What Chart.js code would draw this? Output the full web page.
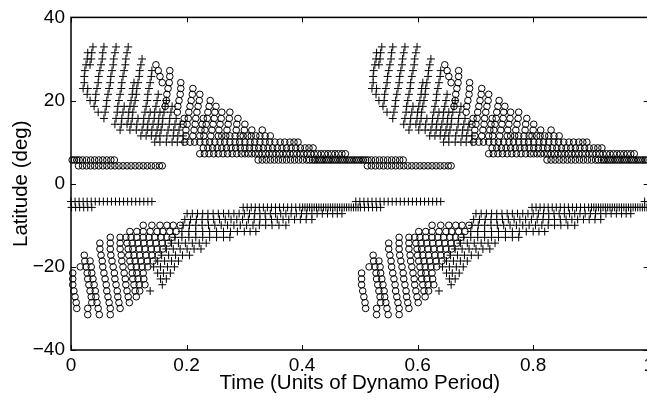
<!DOCTYPE html>
<html>
<head>
<meta charset="utf-8">
<script src="https://cdn.jsdelivr.net/npm/chart.js@4.4.0/dist/chart.umd.min.js"></script>
<style>
  html, body { margin: 0; padding: 0; background: #fff; overflow: hidden; }
  #wrap { position: relative; width: 660px; height: 401px; }
</style>
</head>
<body>
<div id="wrap"><canvas id="butterfly"></canvas></div>
<script>
// one dynamo cycle, times in units of the dynamo period, repeated every half period
const cycleStarts = [-0.5, 0, 0.5];
const xTicks = [0, 0.2, 0.4, 0.6, 0.8, 1];
const yTicks = [-40, -20, 0, 20, 40];

// [latitude, [times]]
const northPlusRows = [
  [32.9, [.038, .057, .078, .099]],
  [31.5, [.029, .036, .055, .076, .097]],
  [30.0, [.028, .035, .054, .074, .095, .123]],
  [28.6, [.026, .033, .052, .073, .094, .121]],
  [27.2, [.024, .050, .071, .092, .119, .140]],
  [25.8, [.023, .048, .069, .090, .118, .139]],
  [24.3, [.023, .047, .068, .088, .109, .116, .137]],
  [22.9, [.021, .029, .045, .066, .087, .107, .114, .135]],
  [21.5, [.028, .043, .064, .085, .106, .113, .133, .151]],
  [20.0, [.033, .042, .062, .083, .104, .111, .132, .149, .165]],
  [18.6, [.040, .061, .081, .092, .102, .109, .130, .147, .163, .175]],
  [17.2, [.047, .059, .080, .090, .100, .107, .128, .137, .145, .154, .161, .173]],
  [15.7, [.057, .078, .088, .099, .106, .116, .126, .135, .144, .152, .159, .171, .182]],
  [14.3, [.076, .087, .097, .104, .114, .125, .133, .142, .151, .158, .170, .180, .189]],
  [12.9, [.085, .102, .113, .123, .132, .140, .149, .156, .168, .178, .187]],
  [11.5, [.121, .130, .139, .147, .154, .166, .177, .185, .194]],
  [10.0, [.145, .154, .165, .175, .184, .194]]
];

const northCircleRows = [
  [28.6, [.147]],
  [27.2, [.151, .171]],
  [25.8, [.154, .171]],
  [24.3, [.158, .170, .190]],
  [22.9, [.168, .190, .211]],
  [21.5, [.166, .189, .210, .223]],
  [20.0, [.165, .187, .208, .222, .241]],
  [18.6, [.163, .185, .206, .220, .239, .251]],
  [17.2, [.184, .204, .218, .237, .249, .261, .275]],
  [15.7, [.196, .203, .216, .229, .236, .248, .260, .274, .289]],
  [14.3, [.194, .201, .215, .227, .234, .246, .258, .272, .287, .301]],
  [12.9, [.199, .213, .225, .232, .244, .256, .270, .286, .300, .313, .331]],
  [11.5, [.199, .211, .223, .230, .242, .255, .261, .268, .275, .284, .293, .298, .306, .312, .320, .327, .336, .345]],
  [10.0, [.197, .206, .214, .223, .232, .240, .249, .258, .266, .275, .284, .292, .301, .310, .318, .327, .336, .344, .353, .362, .370, .379, .386, .393]],
  [8.6, [.229, .237, .245, .253, .261, .269, .277, .285, .293, .301, .309, .317, .325, .333, .341, .349, .357, .365, .373, .381, .389, .397, .405, .412, .419]],
  [7.2, [.223, .231, .239, .247, .255, .263, .271, .279, .287, .295, .301, .307, .313, .319, .325, .331, .337, .343, .349, .355, .361, .367, .373, .379, .385, .391, .397, .403, .409, .415, .421, .427, .433, .439, .445, .451, .457, .463, .469, .475]],
  [5.7, [.324, .331, .338, .345, .352, .359, .366, .373, .380, .387, .394, .401, .408, .413, .418, .422, .426, .430, .434, .438, .442, .446, .450, .454, .458, .462, .466, .470, .474, .478, .482, .486, .490, .494, .498, .502, .506, .510, .514, .520, .527, .534, .541, .548, .555, .562, .569, .575]],
  [4.3, [.513, .520, .527, .534, .541, .548, .555, .562, .569, .576, .583, .590, .597, .604, .611, .618, .625, .632, .639, .646, .653, .658]]
];

const southCircleRows = [
  [-10.0, [.125, .140, .154, .166, .177, .189]],
  [-11.5, [.102, .114, .125, .137, .149, .159, .171, .182]],
  [-12.9, [.068, .085, .095, .104, .114, .125, .135, .145, .156, .166, .175]],
  [-14.3, [.050, .068, .085, .097, .106, .116, .126, .137, .147, .158, .168]],
  [-15.7, [.050, .068, .085, .099, .107, .118, .128, .139, .149, .159]],
  [-17.2, [.023, .052, .069, .087, .100, .109, .119, .130, .140, .151]],
  [-18.6, [.024, .033, .054, .071, .088, .102, .111, .121, .132, .142]],
  [-20.0, [.016, .026, .035, .055, .073, .090, .104, .113, .123, .133]],
  [-21.5, [.003, .028, .036, .057, .075, .092, .106, .114, .125]],
  [-22.9, [.003, .029, .038, .059, .076, .094, .107, .116, .126]],
  [-24.3, [.003, .031, .040, .061, .078, .095, .109, .118, .128]],
  [-25.8, [.005, .033, .042, .062, .080, .097, .111, .119]],
  [-27.2, [.007, .035, .043, .064, .081, .099, .113]],
  [-28.6, [.009, .036, .045, .066, .083, .101]],
  [-30.0, [.010, .029, .047, .068, .085]],
  [-31.5, [.029, .049, .068]]
];

const southPlusRows = [
  [-4.3, [.493, .500, .507, .514, .521, .528, .535, .542, .549, .556, .563, .570, .577, .584, .591, .598, .605, .612, .619, .626, .633, .640]],
  [-5.7, [.298, .305, .312, .319, .326, .333, .340, .347, .354, .361, .368, .375, .382, .389, .396, .401, .405, .409, .413, .417, .421, .425, .429, .433, .437, .441, .445, .449, .453, .457, .461, .465, .469, .473, .477, .481, .485, .489, .493, .497, .501, .508, .515, .522, .529, .536]],
  [-7.2, [.201, .210, .219, .228, .237, .246, .255, .264, .273, .282, .291, .300, .309, .318, .327, .336, .345, .354, .363, .372, .381, .390, .399, .408, .417, .426, .435, .444, .453, .461, .469]],
  [-8.6, [.197, .207, .217, .227, .237, .247, .257, .267, .277, .287, .297, .307, .317, .327, .337, .347, .357, .367, .377, .387, .397, .407, .417]],
  [-10.0, [.194, .205, .216, .227, .238, .249, .260, .271, .282, .293, .304, .315, .326, .337, .348, .360, .372]],
  [-11.5, [.192, .204, .216, .228, .240, .252, .264, .276, .288, .300, .310, .320]],
  [-12.9, [.180, .192, .204, .216, .228, .240, .252, .264, .275]],
  [-14.3, [.174, .186, .198, .210, .222, .234]],
  [-15.7, [.165, .177, .189, .201, .213, .225]],
  [-17.2, [.157, .169, .181, .193, .205]],
  [-18.6, [.150, .162, .174, .186]],
  [-20.0, [.143, .155, .167, .179]],
  [-21.5, [.150, .160, .172]],
  [-22.9, [.155, .165]],
  [-24.3, [.158]],
  [-25.8, [.137]]
];

function wing(rows) {
  const pts = [];
  cycleStarts.forEach(function (c) {
    rows.forEach(function (row) {
      row[1].forEach(function (t) {
        const x = c + t;
        if (x >= 0 && x <= 1) pts.push({ x: x, y: row[0] });
      });
    });
  });
  return pts;
}

function circles(rows) {
  return {
    data: wing(rows), pointStyle: 'circle', pointRadius: 3.3,
    borderColor: '#000', backgroundColor: 'rgba(0,0,0,0)', borderWidth: 1, clip: false
  };
}
function pluses(rows) {
  return {
    data: wing(rows), pointStyle: 'cross', pointRadius: 4,
    borderColor: '#000', backgroundColor: '#000', borderWidth: 1, clip: false
  };
}

// boxed axes with inward ticks
const frame = {
  id: 'frame',
  afterDraw(chart) {
    const ctx = chart.ctx, a = chart.chartArea;
    const x = chart.scales.x, y = chart.scales.y;
    ctx.save();
    ctx.strokeStyle = '#000';
    ctx.lineWidth = 1.5;
    ctx.strokeRect(a.left, a.top, a.right - a.left, a.bottom - a.top);
    ctx.lineWidth = 1;
    ctx.beginPath();
    xTicks.forEach(function (v) {
      const p = Math.round(x.getPixelForValue(v)) + 0.5;
      ctx.moveTo(p, a.bottom); ctx.lineTo(p, a.bottom - 5);
      ctx.moveTo(p, a.top); ctx.lineTo(p, a.top + 5);
    });
    yTicks.forEach(function (v) {
      const p = Math.round(y.getPixelForValue(v)) + 0.5;
      ctx.moveTo(a.left, p); ctx.lineTo(a.left + 5, p);
      ctx.moveTo(a.right, p); ctx.lineTo(a.right - 5, p);
    });
    ctx.stroke();
    ctx.restore();
  }
};

const tickFont = { family: '"Liberation Sans", Arial, sans-serif', size: 19 };
const titleFont = { family: '"Liberation Sans", Arial, sans-serif', size: 20.5 };

new Chart(document.getElementById('butterfly'), {
  type: 'scatter',
  data: {
    datasets: [
      pluses(northPlusRows),
      circles(northCircleRows),
      circles(southCircleRows),
      pluses(southPlusRows)
    ]
  },
  options: {
    responsive: true,
    maintainAspectRatio: false,
    animation: false,
    layout: { padding: { left: 0, right: 11.3, top: 14, bottom: 0 } },
    plugins: { legend: { display: false }, tooltip: { enabled: false } },
    scales: {
      x: {
        type: 'linear', min: 0, max: 1,
        afterBuildTicks: function (s) { s.ticks = xTicks.map(function (v) { return { value: v }; }); },
        afterFit: function (s) { s.height = 51; },
        grid: { display: false, drawTicks: false },
        border: { display: false },
        ticks: { color: '#000', font: tickFont, padding: 4, maxRotation: 0,
          callback: function (v) { return String(v); } },
        title: { display: true, text: 'Time (Units of Dynamo Period)', color: '#000',
          font: titleFont, padding: { top: 0, bottom: 5 } }
      },
      y: {
        type: 'linear', min: -40, max: 40,
        afterBuildTicks: function (s) { s.ticks = yTicks.map(function (v) { return { value: v }; }); },
        afterFit: function (s) { s.width = 71; },
        grid: { display: false, drawTicks: false },
        border: { display: false },
        ticks: { color: '#000', font: tickFont, padding: 6,
          callback: function (v) { return v < 0 ? '\u2212' + Math.abs(v) : String(v); } },
        title: { display: true, text: 'Latitude (deg)', color: '#000',
          font: titleFont, padding: { top: 9, bottom: 0 } }
      }
    }
  },
  plugins: [frame]
});
</script>
</body>
</html>
